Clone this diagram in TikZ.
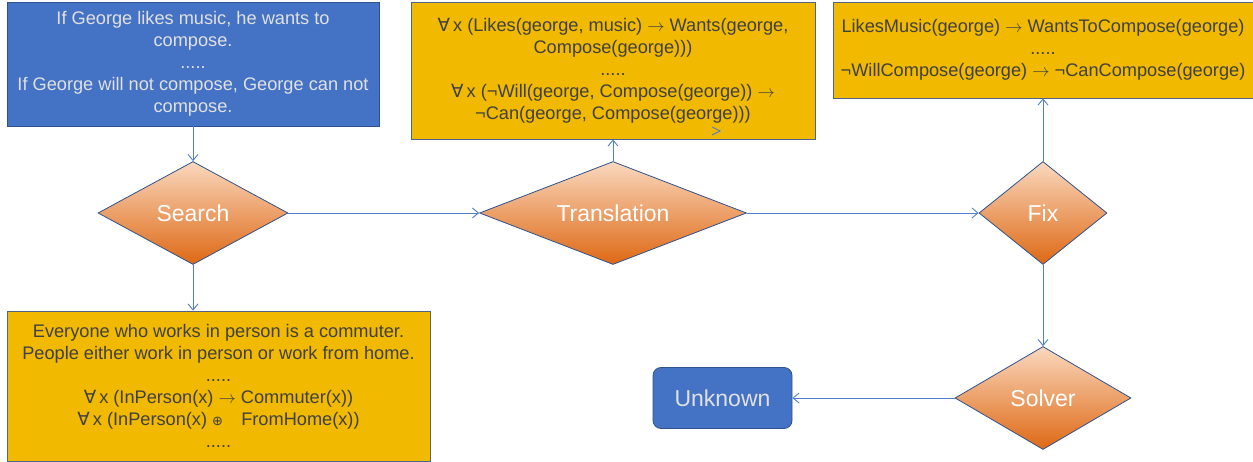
\documentclass[tikz,border=0pt]{standalone}
\usepackage{fontspec}
\setmainfont{Liberation Sans}
\newfontfamily\symfont{DejaVu Sans}
\usetikzlibrary{shapes.geometric,arrows.meta}
\definecolor{boxblue}{RGB}{68,114,196}
\definecolor{edgeblue}{RGB}{47,82,143}
\definecolor{linkblue}{RGB}{82,126,206}
\definecolor{gold}{RGB}{241,185,0}
\definecolor{textgray}{RGB}{64,64,64}
\definecolor{paletext}{RGB}{225,225,225}
\definecolor{peach}{RGB}{250,216,190}
\definecolor{orangemid}{RGB}{237,125,49}
\definecolor{orangedark}{RGB}{222,104,20}
\newcommand{\fa}{{\symfont ∀}\,x}
\newcommand{\imp}{\ $\rightarrow$\ }
\begin{document}
\begin{tikzpicture}[x=1pt,y=-1pt,
	every node/.style={font=\fontsize{18.2}{22}\selectfont},
	bluebox/.style={rectangle,draw=edgeblue,fill=boxblue,text=paletext,align=center,inner sep=0pt,line width=0.8pt},
	goldbox/.style={rectangle,draw=edgeblue!60!gray,fill=gold,text=textgray,align=center,inner sep=0pt,line width=0.8pt},
	decision/.style={diamond,aspect=2,inner sep=0pt,draw=edgeblue,line width=0.8pt,top color=peach,middle color=orangemid,bottom color=orangedark,text=white,minimum height=103pt,font=\fontsize{23}{27}\selectfont},
	link/.style={draw=linkblue,line width=0.9pt,-{Straight Barb[length=6pt,width=10pt]}}]
			\def\rowA{213}
			\def\rowB{398}
			\useasboundingbox (0,0) rectangle (1253,462);
			% left column
			\node[bluebox,minimum width=372pt,minimum height=124pt] (story) at (193,64)
				{If George likes music, he wants to\\compose.\\.....\\If George will not compose, George can not\\compose.};
			\node[decision,minimum width=190pt] (search) at (193,\rowA) {Search};
			\node[goldbox,minimum width=423pt,minimum height=150pt] (facts) at (218.5,386)
				{Everyone who works in person is a commuter.\\People either work in person or work from home.\\.....\\\fa{} (InPerson(x)\imp Commuter(x))\\\fa{} (InPerson(x) {\symfont\fontsize{13}{22}\selectfont ⊕}\quad FromHome(x))\\.....};
			% middle column
			\node[decision,minimum width=267pt] (translate) at (613,\rowA) {Translation};
			\node[goldbox,minimum width=404pt,minimum height=137pt] (fol) at (613,70.5)
				{\fa{} (Likes(george, music)\imp Wants(george,\\Compose(george)))\\.....\\\fa{} (¬Will(george, Compose(george))\imp\\¬Can(george, Compose(george)))};
			% right column
			\node[decision,minimum width=128pt] (fix) at (1043,\rowA) {Fix};
			\node[goldbox,minimum width=420pt,minimum height=96pt] (fixed) at (1043,50)
				{LikesMusic(george)\imp WantsToCompose(george)\\.....\\¬WillCompose(george)\imp ¬CanCompose(george)};
			\node[decision,minimum width=176pt] (solver) at (1043,\rowB) {Solver};
			\node[bluebox,rounded corners=8pt,minimum width=139pt,minimum height=61pt,font=\fontsize{23}{27}\selectfont] (unknown) at (722.5,\rowB) {Unknown};
			% connectors
			\draw[link] (story) -- (search);
			\draw[link] (search.south) -- (search.south |- facts.north);
			\draw[link] (search) -- (translate);
			\draw[link] (translate) -- (fol);
			\draw[link] (translate) -- (fix);
			\draw[link] (fix) -- (fixed);
			\draw[link] (fix) -- (solver);
			\draw[link] (solver) -- (unknown);
			\draw[draw=linkblue,line width=0.9pt] (712,127) -- (720,131) -- (712,135);
\end{tikzpicture}
\end{document}
